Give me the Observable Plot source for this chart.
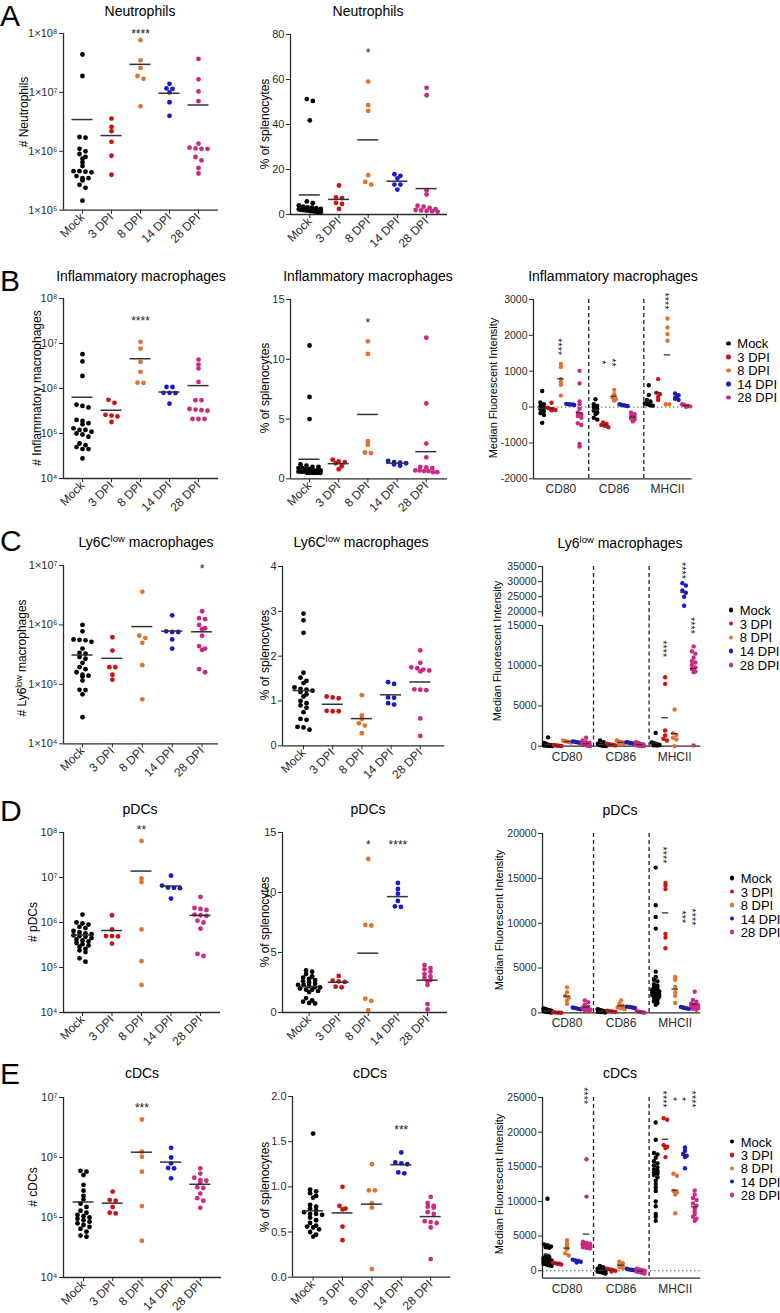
<!DOCTYPE html>
<html><head><meta charset="utf-8">
<script src="https://cdn.jsdelivr.net/npm/d3@7"></script>
<script src="https://cdn.jsdelivr.net/npm/@observablehq/plot@0.6"></script>
<style>
html,body{margin:0;padding:0;background:#fff;overflow:hidden}
#fig{position:relative;width:780px;height:1313px;font-family:"Liberation Sans",Arial,Helvetica,sans-serif;color:#000;overflow:hidden;background:#fff}
.abs{position:absolute;white-space:nowrap;line-height:1}
.title{font-size:14px;transform:translate(-50%,-50%)}
.ylab{font-size:12px;transform:translate(-50%,-50%) rotate(-90deg)}
.ylab.mfi{font-size:11px}
.letter{font-size:30px;line-height:30px}
.leg{font-size:13px}
.leg i{position:absolute;width:4.4px;height:4.4px;border-radius:50%;left:-11px;top:50%;margin-top:-2.2px}
sup{font-size:0.68em;vertical-align:0.55em;line-height:0}
</style></head>
<body><div id="fig"></div>
<script>
// ---------- categories & colours ----------
const cats = ["Mock", "3 DPI", "8 DPI", "14 DPI", "28 DPI"];
const catColors = ["#000000", "#cc1212", "#e27230", "#1818d0", "#cc2a82"];
const markers = ["CD80", "CD86", "MHCII"];

// ---------- A: Neutrophils ----------
const neutCount = [
  [4.4e7, 1.9e7, 1.75e6, 1.7e6, 1.1e6, 1.0e6, 9e5, 8e5, 7.5e5, 6.5e5, 5.6e5, 4.6e5, 4.6e5, 4.5e5, 4.4e5, 3.8e5, 3.5e5, 3.5e5, 3.2e5, 2.7e5, 2.4e5, 1.45e5],
  [3.6e6, 2.6e6, 2.2e6, 1.45e6, 8.4e5, 4.0e5],
  [7.7e7, 3.5e7, 2.6e7, 1.9e7, 1.7e7, 5.8e6],
  [1.4e7, 1.17e7, 1.15e7, 1.0e7, 6.8e6, 4.0e6],
  [3.7e7, 1.67e7, 1.04e7, 7.1e6, 1.35e6, 1.15e6, 1.12e6, 1.1e6, 1.1e6, 8e5, 7e5, 5.2e5, 4.2e5]
];
const neutCountStars = [{g: 2, y: 1.09e8, t: "****"}];
const neutPct = [
  [51.3, 50.5, 41.8, 5.8, 5.0, 4.0, 3.5, 3.2, 3.0, 2.8, 2.5, 2.3, 2.1, 2.0, 1.9, 1.8, 1.6, 1.5, 1.4, 1.2, 1.1, 1.0],
  [12.9, 7.6, 7.3, 5.2, 4.7, 2.5],
  [59.1, 48.6, 46.1, 17.5, 14.5, 13.3],
  [17.9, 17.2, 16.0, 13.3, 13.3, 11.1],
  [56.3, 53.0, 10.8, 8.9, 3.9, 3.5, 2.9, 2.4, 2.0, 1.8, 1.6, 1.4, 1.2]
];
const neutPctStars = [{g: 2, y: 73, t: "*"}];

// ---------- B: Inflammatory macrophages ----------
const inflCount = [
  [5.8e6, 4.0e6, 1.9e6, 4.4e5, 4.1e5, 3.8e5, 2.0e5, 1.9e5, 1.7e5, 1.6e5, 1.3e5, 1.2e5, 1.2e5, 1.1e5, 1.0e5, 9.5e4, 8.5e4, 6.0e4, 5.5e4, 5.0e4, 4.5e4, 4.5e4, 2.8e4],
  [5.6e5, 4.8e5, 2.6e5, 2.5e5, 2.4e5, 1.8e5],
  [1.09e7, 7.7e6, 3.9e6, 2.35e6, 1.35e6, 1.33e6],
  [1.08e6, 1.08e6, 8.0e5, 8.0e5, 7.9e5, 4.6e5],
  [4.4e6, 3.4e6, 2.8e6, 1.4e6, 5.5e5, 5.5e5, 3.5e5, 3.4e5, 3.3e5, 3.2e5, 2.1e5, 2.1e5, 2.1e5]
];
const inflCountStars = [{g: 2, y: 3.6e7, t: "****"}];
const inflPct = [
  [11.15, 6.85, 5.0, 1.2, 1.1, 1.0, 1.0, 0.9, 0.9, 0.8, 0.8, 0.7, 0.7, 0.7, 0.6, 0.6, 0.6, 0.5, 0.5, 0.5, 0.5, 0.5, 0.5],
  [1.6, 1.45, 1.4, 1.3, 1.05, 0.8],
  [11.5, 10.45, 3.15, 2.85, 2.2, 2.15],
  [1.5, 1.4, 1.35, 1.3, 1.2, 1.1],
  [11.8, 6.3, 2.95, 1.8, 1.0, 0.95, 0.9, 0.7, 0.7, 0.65, 0.65, 0.55, 0.55]
];
const inflPctStars = [{g: 2, y: 13.3, t: "*"}];
const inflCD80 = [
  [450, 130, 80, 30, -10, -60, -110, -170, -220, -440],
  [120, -20, -50, -60, -80, -90],
  [1200, 1120, 780, 690, 620, 320],
  [90, 80, 75, 70, 60],
  [1010, 660, 160, 80, -50, -150, -200, -250, -300, -450, -500, -1030, -1100]
];
const inflCD86 = [
  [220, 80, 30, 0, -50, -100, -150, -200, -300, -350],
  [-430, -470, -500, -520, -560],
  [480, 360, 270, 220, 180],
  [80, 60, 50, 40, 30],
  [-150, -200, -250, -280, -320, -350, -400]
];
const inflMHCII = [
  [610, 340, 200, 150, 100, 80, 50, 40],
  [780, 400, 360, 280, 200],
  [2470, 2220, 2035, 1850, 80, 80],
  [380, 330, 300, 230, 200],
  [80, 60, 40, 30, 20, 10]
];
const inflMfiStars = [{m: 0, g: 2, y: 1680, t: "****"}, {m: 1, g: 1, y: 1245, t: "*"}, {m: 1, g: 2, y: 1245, t: "**"}, {m: 2, g: 2, y: 2960, t: "****"}];

// ---------- C: Ly6C low macrophages ----------
const ly6Count = [
  [1.0e6, 7.8e5, 5.7e5, 5.6e5, 5.5e5, 5.2e5, 4.0e5, 3.4e5, 3.3e5, 2.9e5, 2.7e5, 2.3e5, 1.95e5, 1.8e5, 1.6e5, 1.45e5, 1.4e5, 1.35e5, 1.16e5, 8.1e4, 8.0e4, 6.8e4, 2.8e4],
  [6.2e5, 3.7e5, 1.95e5, 1.95e5, 1.45e5, 1.2e5],
  [3.6e6, 6.6e5, 6.0e5, 5.0e5, 2.1e5, 5.6e4],
  [1.45e6, 7.8e5, 7.6e5, 7.6e5, 5.7e5, 4.0e5],
  [1.7e6, 1.3e6, 1.25e6, 1.0e6, 8.8e5, 8.5e5, 6.6e5, 4.4e5, 4.0e5, 3.8e5, 1.8e5, 1.6e5]
];
const ly6CountStars = [{g: 4, y: 9.7e6, t: "*"}];
const ly6Pct = [
  [2.95, 2.8, 2.52, 1.63, 1.52, 1.45, 1.4, 1.3, 1.27, 1.25, 1.23, 1.2, 1.15, 1.1, 1.0, 0.95, 0.9, 0.85, 0.75, 0.6, 0.58, 0.42, 0.41, 0.36],
  [1.1, 1.08, 1.06, 0.78, 0.77, 0.77],
  [1.13, 0.68, 0.6, 0.5, 0.45, 0.28],
  [1.42, 1.38, 1.08, 1.07, 0.95, 0.92],
  [2.13, 1.85, 1.75, 1.73, 1.7, 1.68, 1.66, 1.26, 1.25, 1.24, 0.61, 0.22]
];
const ly6PctStars = [];
const ly6CD80 = [
  [1100, 400, 300, 200, 150, 100, 80, 50, 30, 20],
  [150, 100, 80, 50, 40, 30],
  [700, 650, 600, 550, 500, 450],
  [600, 550, 500, 450, 400],
  [1050, 700, 500, 400, 300, 250, 200, 150, 100, 80, 50, 30]
];
const ly6CD86 = [
  [700, 500, 300, 200, 150, 100, 80, 50, 30, 20],
  [300, 250, 200, 150, 100],
  [700, 600, 500, 400, 350, 300],
  [500, 450, 400, 350, 300],
  [500, 400, 300, 250, 200, 150, 100, 80, 50, 30, 20]
];
const ly6MHCII = [
  [1650, 450, 400, 350, 300, 250, 200, 150, 100, 80],
  [8570, 7750, 1950, 1330, 910, 700],
  [4560, 1615, 1400, 1035, 830, 0],
  [29500, 28700, 27100, 26300, 25000, 22000],
  [12400, 11800, 11500, 11000, 10600, 10400, 10100, 9800, 9600, 9300, 9200, 100]
];
const ly6MfiStars = [{m: 2, g: 1, y: 12100, t: "****"}, {m: 2, g: 3, y: 33700, t: "****"}, {m: 2, g: 4, y: 15000, t: "****"}];

// ---------- D: pDCs ----------
const pdcCount = [
  [1.5e6, 1.0e6, 9.5e5, 9.0e5, 8.0e5, 7.5e5, 6.5e5, 6.0e5, 5.7e5, 5.5e5, 5.2e5, 5.0e5, 4.8e5, 4.5e5, 4.2e5, 4.0e5, 3.8e5, 3.5e5, 3.3e5, 3.1e5, 2.9e5, 2.6e5, 2.4e5, 2.2e5, 1.6e5, 1.35e5],
  [1.45e6, 7.0e5, 5.0e5, 5.0e5, 4.9e5, 3.4e5],
  [6.5e7, 9.5e6, 7.9e6, 7.0e5, 1.38e5, 4.1e4],
  [1.1e7, 6.6e6, 6.0e6, 5.9e6, 5.8e6, 3.4e6],
  [3.7e6, 2.1e6, 2.0e6, 1.9e6, 1.5e6, 1.45e6, 1.4e6, 1.1e6, 1.0e6, 7.3e5, 2.0e5, 1.8e5]
];
const pdcCountStars = [{g: 2, y: 1.33e8, t: "**"}];
const pdcPct = [
  [3.5, 3.4, 3.2, 3.0, 2.9, 2.8, 2.7, 2.6, 2.5, 2.4, 2.3, 2.3, 2.2, 2.1, 2.1, 2.0, 1.9, 1.9, 1.8, 1.7, 1.2, 1.0, 0.9, 0.8, 0.75],
  [3.05, 2.65, 2.6, 2.55, 2.15, 2.1],
  [12.8, 7.3, 7.25, 1.15, 0.97, 0.2],
  [10.8, 10.3, 9.9, 9.3, 8.85, 8.8],
  [3.95, 3.7, 3.6, 3.4, 3.2, 3.0, 2.9, 2.7, 2.6, 2.3, 0.7, 0.25]
];
const pdcPctStars = [{g: 2, y: 14.2, t: "*"}, {g: 3, y: 14.2, t: "****"}];
const pdcCD80 = [
  [500, 450, 350, 300, 250, 200, 150, 100, 80, 50],
  [80, 50, 30, 20, 10],
  [2850, 2300, 1900, 1700, 1400, 1000],
  [600, 550, 500, 450, 400],
  [1400, 1200, 900, 700, 600, 500, 450, 400, 350, 300, 250]
];
const pdcCD86 = [
  [400, 350, 300, 250, 200, 150, 100, 80, 50],
  [250, 200, 150, 100],
  [1400, 1000, 800, 600, 500, 400],
  [700, 650, 600, 550],
  [200, 150, 100, 80, 50, 30]
];
const pdcMHCII = [
  [16200, 12000, 10700, 9400, 4600, 4000, 3700, 3500, 3200, 3000, 2900, 2700, 2600, 2500, 2400, 2300, 2200, 2100, 2000, 1900, 1800, 1700, 1500, 1300, 1100, 900],
  [14500, 14200, 13800, 8800, 8400, 7200],
  [4000, 3700, 2900, 2300, 1900, 1100],
  [650, 600, 550, 500, 450],
  [2350, 1450, 1250, 1050, 950, 850, 750, 650, 550, 450, 350]
];
const pdcMfiStars = [{m: 2, g: 1, y: 17600, t: "****"}, {m: 2, g: 3, y: 10700, t: "***"}, {m: 2, g: 4, y: 10700, t: "****"}];

// ---------- E: cDCs ----------
const cdcCount = [
  [6.0e5, 5.8e5, 5.1e5, 3.5e5, 2.8e5, 2.3e5, 2.0e5, 1.7e5, 1.5e5, 1.3e5, 1.2e5, 1.1e5, 1.05e5, 1.0e5, 9.5e4, 9.0e4, 8.5e4, 8.0e4, 7.5e4, 7.0e4, 6.5e4, 5.8e4, 5.0e4, 4.8e4],
  [2.7e5, 1.95e5, 1.9e5, 1.5e5, 1.2e5, 1.17e5],
  [4.3e6, 1.25e6, 1.03e6, 5.8e5, 1.55e5, 4.1e4],
  [1.45e6, 1.0e6, 8.0e5, 6.7e5, 6.6e5, 4.5e5],
  [6.6e5, 5.4e5, 4.6e5, 4.2e5, 4.1e5, 3.8e5, 3.2e5, 3.1e5, 2.5e5, 2.1e5, 1.9e5, 1.45e5]
];
const cdcCountStars = [{g: 2, y: 7.5e6, t: "***"}];
const cdcPct = [
  [1.59, 0.97, 0.95, 0.93, 0.9, 0.88, 0.8, 0.78, 0.76, 0.74, 0.72, 0.7, 0.7, 0.69, 0.66, 0.63, 0.6, 0.57, 0.56, 0.55, 0.53, 0.5, 0.47, 0.45],
  [1.0, 0.79, 0.76, 0.75, 0.56, 0.41],
  [1.25, 0.96, 0.96, 0.82, 0.77, 0.09],
  [1.38, 1.27, 1.26, 1.25, 1.16, 1.15],
  [0.89, 0.82, 0.79, 0.78, 0.77, 0.72, 0.7, 0.62, 0.61, 0.6, 0.55, 0.2]
];
const cdcPctStars = [{g: 3, y: 1.66, t: "***"}];
const cdcCD80 = [
  [10400, 3800, 3700, 3500, 3400, 3300, 2200, 2000, 1800, 1700, 1600, 1500, 1400, 1300, 1200, 1100, 1000, 900, 800, 700],
  [1200, 1100, 1000, 1000, 900],
  [4400, 3900, 3500, 3100, 2500, 2200],
  [1600, 1500, 1400, 1300, 1200],
  [16100, 10700, 4200, 4000, 3900, 3800, 3700, 3600, 3500, 3400, 3300, 3200]
];
const cdcCD86 = [
  [700, 500, 300, 200, 100, 0, -100, -200, -300, -400],
  [300, 200, 100, 0, -100],
  [1300, 1100, 900, 700, 500, 400],
  [300, 200, 150, 100, 50],
  [300, 200, 100, 0, -100, -200, -300, -400]
];
const cdcMHCII = [
  [21400, 18900, 17000, 16800, 16300, 15800, 15500, 15200, 14900, 14600, 14400, 14200, 14000, 13800, 13500, 13000, 12500, 12000, 11500, 10000, 9300, 8200, 7800, 7200],
  [22000, 21800, 18100, 17900, 17700, 16400],
  [14000, 13700, 11500, 11300, 11000, 8300],
  [17800, 17300, 16900, 16600, 16400, 14800],
  [11600, 11000, 10500, 10200, 9700, 9400, 9000, 8600, 8200, 7800, 7500, 7200]
];
const cdcMfiStars = [{m: 0, g: 4, y: 25240, t: "****"}, {m: 2, g: 1, y: 24760, t: "****"}, {m: 2, g: 2, y: 24760, t: "*"}, {m: 2, g: 3, y: 24760, t: "*"}, {m: 2, g: 4, y: 24760, t: "****"}];

// ---------- tick labels ----------
const logTicks8 = [1e5, 1e6, 1e7, 1e8];
const logTicks4to8 = [1e4, 1e5, 1e6, 1e7, 1e8];
const logTicks4to7 = [1e4, 1e5, 1e6, 1e7];
const SUP = "⁰¹²³⁴⁵⁶⁷⁸⁹";
const sup = n => String(n).split("").map(c => SUP[+c]).join("");
const fmt1x = v => "1×10" + sup(Math.round(Math.log10(v)));
const fmt10 = v => "10" + sup(Math.round(Math.log10(v)));

// ---------- rendering helpers ----------
const fig = document.getElementById("fig");
const FONT = "'Liberation Sans', Arial, Helvetica, sans-serif";
const AX = "#2b2b2b";
const M = {l: 52, r: 14, t: 16, b: 52};

function swarm(py, maxHalf, step, rowH) {
  const n = py.length, off = new Array(n).fill(0);
  const order = d3.range(n).sort((a, b) => py[a] - py[b]);
  let row = [];
  const flush = () => {
    const m = row.length;
    const s = m > 1 ? Math.min(step, 2 * maxHalf / (m - 1)) : 0;
    row.forEach((i, k) => off[i] = (k - (m - 1) / 2) * s);
    row = [];
  };
  for (const i of order) {
    if (row.length && py[i] - py[row[0]] > rowH) flush();
    row.push(i);
  }
  flush();
  return off;
}

function svgStyle(left, top) {
  return `position:absolute;left:${left}px;top:${top}px;background:none;overflow:visible;max-width:none;font-family:${FONT};color:${AX};`;
}

function catPanel(data, stars, L) {
  const ys = (L.type === "log" ? d3.scaleLog() : d3.scaleLinear()).domain(L.dom).range([L.Y1, L.Y0]);
  const pts = [];
  data.forEach((vals, g) => {
    const off = swarm(vals.map(v => ys(v)), 11, 6, 3.5);
    vals.forEach((v, k) => pts.push({x: g + off[k] / L.sp, v, c: cats[g]}));
  });
  const means = data.map((vals, g) => ({g, m: d3.mean(vals)}));
  const xd = [(L.X0 - L.c0) / L.sp, (L.X1 - L.c0) / L.sp];
  const hw = 10.5 / L.sp;
  const svg = Plot.plot({
    width: L.X1 - L.X0 + M.l + M.r, height: L.Y1 - L.Y0 + M.t + M.b,
    marginLeft: M.l, marginRight: M.r, marginTop: M.t, marginBottom: M.b,
    style: svgStyle(L.X0 - M.l, L.Y0 - M.t),
    x: {domain: xd},
    y: {type: L.type, domain: L.dom},
    color: {domain: cats, range: catColors},
    marks: [
      Plot.axisY({ticks: L.ticks, tickFormat: L.fmt, tickSize: 4, tickPadding: 2, fontSize: 11, label: null}),
      Plot.axisX({ticks: [0, 1, 2, 3, 4], tickFormat: i => cats[i], tickRotate: -45, tickSize: 4, tickPadding: 1, fontSize: 12, label: null}),
      Plot.ruleX([xd[0]], {stroke: AX, strokeWidth: 1.3}),
      Plot.ruleY([L.dom[0]], {stroke: AX, strokeWidth: 1.3}),
      Plot.dot(pts, {x: "x", y: "v", r: 2.4, fill: "c"}),
      Plot.ruleY(means, {y: "m", x1: d => d.g - hw, x2: d => d.g + hw, stroke: "#333", strokeWidth: 1.5}),
      Plot.text(stars, {x: "g", y: "y", text: "t", fontSize: 12, dy: 3, fill: "#222"})
    ]
  });
  fig.appendChild(svg);
}

// MFI panels; an axis with a break is drawn as stacked parts (bottom part first)
function mfiPanel(groups, stars, L) {
  const parts = L.parts;
  const pd = [], pr = [];
  parts.forEach(p => { pd.push(p.dom[0], p.dom[1]); pr.push(p.Y1, p.Y0); });
  const ys = d3.scaleLinear().domain(pd).range(pr);
  const partOf = v => { for (let k = 0; k < parts.length; k++) if (v <= parts[k].dom[1] + 1e-9) return k; return parts.length - 1; };
  const pts = [], means = [];
  groups.forEach((grp, m) => grp.forEach((vals, g) => {
    const cx = m * L.G + g;
    const off = swarm(vals.map(v => ys(v)), 4, 3.5, 2.5);
    vals.forEach((v, k) => pts.push({x: cx + off[k] / L.sp, v, c: cats[g], part: partOf(v)}));
    const mu = d3.mean(vals);
    means.push({x: cx, m: mu, part: partOf(mu)});
  }));
  const starsP = stars.map(s => ({...s, part: partOf(s.y)}));
  const xd = [(L.X0 - L.c0) / L.sp, (L.X1 - L.c0) / L.sp];
  const hw = 3.2 / L.sp;
  const centers = markers.map((_, m) => m * L.G + 2);
  parts.forEach((p, k) => {
    const isBottom = k === 0, isTop = k === parts.length - 1;
    const gap = isTop ? 0 : p.Y0 - parts[k + 1].Y1;
    const svg = Plot.plot({
      width: L.X1 - L.X0 + M.l + M.r, height: p.Y1 - p.Y0 + M.t + M.b,
      marginLeft: M.l, marginRight: M.r, marginTop: M.t, marginBottom: M.b,
      style: svgStyle(L.X0 - M.l, p.Y0 - M.t),
      x: {domain: xd},
      y: {domain: p.dom},
      color: {domain: cats, range: catColors},
      marks: [
        Plot.axisY({ticks: p.ticks, tickFormat: d => String(d), tickSize: 4, tickPadding: 2, fontSize: 10.5, label: null}),
        isBottom ? Plot.axisX({ticks: centers, tickFormat: d => markers[Math.round((d - 2) / L.G)], tickSize: 0, tickPadding: 6, fontSize: 12, label: null}) : Plot.axisX({ticks: [], label: null}),
        Plot.ruleX(L.dash, {stroke: "#222", strokeWidth: 1.3, strokeDasharray: "4,3", insetTop: -gap}),
        L.zero && isBottom ? Plot.ruleY([0], {stroke: "#555", strokeWidth: 1, strokeDasharray: "1.5,2.5"}) : null,
        Plot.ruleX([xd[0]], {stroke: AX, strokeWidth: 1.3}),
        isBottom ? Plot.ruleY([p.dom[0]], {stroke: AX, strokeWidth: 1.3}) : null,
        Plot.dot(pts.filter(d => d.part === k), {x: "x", y: "v", r: 2.2, fill: "c"}),
        Plot.ruleY(means.filter(d => d.part === k), {y: "m", x1: d => d.x - hw, x2: d => d.x + hw, stroke: "#333", strokeWidth: 1.3}),
        Plot.text(starsP.filter(d => d.part === k), {x: d => d.m * L.G + d.g, y: "y", text: "t", rotate: 90, fontSize: 11, dx: -3, fill: "#222"})
      ]
    });
    fig.appendChild(svg);
  });
}

function html(cls, x, y, content) {
  const d = document.createElement("div");
  d.className = "abs " + cls;
  d.style.left = x + "px"; d.style.top = y + "px";
  d.innerHTML = content;
  fig.appendChild(d);
}

function legend(dotX, y0, step) {
  cats.forEach((c, i) => {
    const d = document.createElement("div");
    d.className = "abs leg";
    d.style.left = (dotX + 9) + "px";
    d.style.top = (y0 + i * step) + "px";
    d.style.transform = "translateY(-50%)";
    d.innerHTML = `<i style="background:${catColors[i]}"></i>${c}`;
    fig.appendChild(d);
  });
}

// ---------- panels ----------
catPanel(neutCount, neutCountStars, {type: "log", dom: [1e5, 1e8], ticks: logTicks8, fmt: fmt1x, X0: 63, X1: 218, Y0: 33.3, Y1: 210, c0: 82, sp: 29});
catPanel(neutPct, neutPctStars, {type: "linear", dom: [0, 80], ticks: [0, 20, 40, 60, 80], fmt: d => String(d), X0: 290, X1: 447, Y0: 34.3, Y1: 214.3, c0: 309.3, sp: 29.2});

catPanel(inflCount, inflCountStars, {type: "log", dom: [1e4, 1e8], ticks: logTicks4to8, fmt: fmt10, X0: 63, X1: 218, Y0: 298.3, Y1: 478.3, c0: 82, sp: 29});
catPanel(inflPct, inflPctStars, {type: "linear", dom: [0, 15], ticks: [0, 5, 10, 15], fmt: d => String(d), X0: 290, X1: 447, Y0: 299, Y1: 478.3, c0: 309, sp: 29.2});
mfiPanel([inflCD80, inflCD86, inflMHCII], inflMfiStars, {parts: [{dom: [-2000, 3000], ticks: [-2000, -1000, 0, 1000, 2000, 3000], Y0: 299, Y1: 478.3}], X0: 533, X1: 691.7, c0: 541.7, sp: 9.35, G: 5.7, dash: [4.98, 10.87], zero: true});

catPanel(ly6Count, ly6CountStars, {type: "log", dom: [1e4, 1e7], ticks: logTicks4to7, fmt: fmt1x, X0: 63, X1: 218, Y0: 565, Y1: 743.3, c0: 82, sp: 29.9});
catPanel(ly6Pct, ly6PctStars, {type: "linear", dom: [0, 4], ticks: [0, 1, 2, 3, 4], fmt: d => String(d), X0: 281.7, X1: 444, Y0: 565.7, Y1: 745, c0: 302.7, sp: 29.2});
mfiPanel([ly6CD80, ly6CD86, ly6MHCII], ly6MfiStars, {parts: [
  {dom: [0, 15000], ticks: [0, 5000, 10000, 15000], Y0: 625, Y1: 745.7},
  {dom: [18300, 35000], ticks: [20000, 25000, 30000, 35000], Y0: 566, Y1: 616.5}
], X0: 541.7, X1: 700, c0: 547.3, sp: 9.5, G: 5.66, dash: [4.78, 10.63]});

catPanel(pdcCount, pdcCountStars, {type: "log", dom: [1e4, 1e8], ticks: logTicks4to8, fmt: fmt10, X0: 63, X1: 220, Y0: 832.3, Y1: 1012.3, c0: 82, sp: 29.5});
catPanel(pdcPct, pdcPctStars, {type: "linear", dom: [0, 15], ticks: [0, 5, 10, 15], fmt: d => String(d), X0: 281.7, X1: 446.7, Y0: 832.3, Y1: 1012.3, c0: 308.3, sp: 29.6});
mfiPanel([pdcCD80, pdcCD86, pdcMHCII], pdcMfiStars, {parts: [{dom: [0, 20000], ticks: [0, 5000, 10000, 15000, 20000], Y0: 833.3, Y1: 1012.7}], X0: 541.7, X1: 700, c0: 546.7, sp: 9.75, G: 5.55, dash: [4.72, 10.42]});

catPanel(cdcCount, cdcCountStars, {type: "log", dom: [1e4, 1e7], ticks: logTicks4to7, fmt: fmt10, X0: 63, X1: 221, Y0: 1096.7, Y1: 1276.7, c0: 83, sp: 29.2});
catPanel(cdcPct, cdcPctStars, {type: "linear", dom: [0, 2], ticks: [0, 0.5, 1, 1.5, 2], fmt: d3.format(".1f"), X0: 291.7, X1: 450, Y0: 1096, Y1: 1276.7, c0: 312.3, sp: 29.4});
mfiPanel([cdcCD80, cdcCD86, cdcMHCII], cdcMfiStars, {parts: [{dom: [-1060, 25000], ticks: [0, 5000, 10000, 15000, 20000, 25000], Y0: 1096.7, Y1: 1277.3}], X0: 541.7, X1: 700, c0: 546.7, sp: 9.75, G: 5.55, dash: [4.72, 10.42], zero: true});

// ---------- letters ----------
[["A", 1], ["B", 266], ["C", 526], ["D", 796], ["E", 1059]].forEach(([t, y]) => html("letter", 0, y, t));

// ---------- titles ----------
const ly6T = "Ly6C<sup>low</sup> macrophages";
[[140, 11, "Neutrophils"], [368, 11, "Neutrophils"],
 [141, 276, "Inflammatory macrophages"], [368, 276, "Inflammatory macrophages"], [613, 276, "Inflammatory macrophages"],
 [146, 542, ly6T], [361, 542, ly6T], [620, 543, "Ly6<sup>low</sup> macrophages"],
 [140, 809, "pDCs"], [368, 809, "pDCs"], [620, 810, "pDCs"],
 [142, 1073, "cDCs"], [370, 1073, "cDCs"], [620, 1073, "cDCs"]
].forEach(([x, y, t]) => html("title", x, y, t));

// ---------- y-axis labels ----------
const pct = "% of splenocytes", mfi = "Median Fluorescent Intensity";
[[24, 112, "# Neutrophils", ""], [265, 124, pct, ""],
 [37, 388, "# Inflammatory macrophages", ""], [265, 388, pct, ""], [493, 388, mfi, "mfi"],
 [22, 658, "# Ly6<sup>low</sup> macrophages", ""], [265, 655, pct, ""], [497, 651, mfi, "mfi"],
 [33, 922, "# pDCs", ""], [265, 922, pct, ""], [499, 920, mfi, "mfi"],
 [33, 1187, "# cDCs", ""], [265, 1187, pct, ""], [499, 1184, mfi, "mfi"]
].forEach(([x, y, t, c]) => html("ylab " + c, x, y, t));

// ---------- legends ----------
legend(728.3, 343.3, 13.5);
legend(730.7, 610, 13.7);
legend(731.7, 878, 13.5);
legend(731.7, 1141.7, 13.3);
</script></body></html>
